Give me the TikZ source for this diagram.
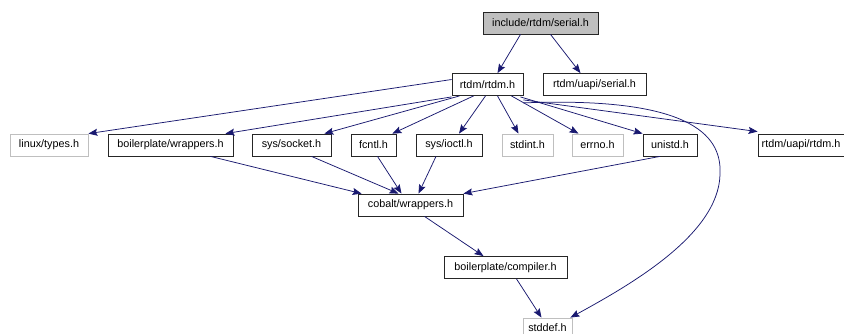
\documentclass[tikz,border=0pt]{standalone}
\usepackage{fontspec}
\setmainfont{Liberation Sans}
\usetikzlibrary{arrows.meta}
\definecolor{edgec}{HTML}{191970}
\definecolor{grayb}{HTML}{BFBFBF}
\begin{document}
\begin{tikzpicture}[x=1pt,y=-1pt,
  box/.style={draw=black!85, line width=0.8pt, minimum height=22pt, inner sep=0pt, font=\fontsize{10.8}{12}\selectfont},
  gbox/.style={box, draw=grayb},
  e/.style={draw=edgec, line width=0.75pt, -{Stealth[length=9pt,width=7pt,inset=1.5pt]}}]
\useasboundingbox (0,0) rectangle (844,333);
\fill[white] (0,0) rectangle (844,333);
\node[box, fill=grayb, minimum width=115pt] (serial) at (540.5,23) {include/rtdm/serial.h};
\node[box, minimum width=71pt] (rtdm) at (487.5,84.5) {rtdm/rtdm.h};
\node[box, minimum width=103pt] (userial) at (594.5,84.5) {rtdm/uapi/serial.h};
\node[gbox, minimum width=78pt] (types) at (49,145) {linux/types.h};
\node[box, minimum width=125pt] (bwrap) at (170.5,145) {boilerplate/wrappers.h};
\node[box, minimum width=79pt] (socket) at (291.5,145) {sys/socket.h};
\node[box, minimum width=45pt] (fcntl) at (373.5,145) {fcntl.h};
\node[box, minimum width=66pt] (ioctl) at (449,145) {sys/ioctl.h};
\node[gbox, minimum width=51pt] (stdint) at (527.5,145) {stdint.h};
\node[gbox, minimum width=51pt] (errno) at (597.5,145) {errno.h};
\node[box, minimum width=54pt] (unistd) at (670,145) {unistd.h};
\node[box, minimum width=86pt] (urtdm) at (801,145) {rtdm/uapi/rtdm.h};
\node[box, minimum width=105pt] (cobalt) at (410.5,205) {cobalt/wrappers.h};
\node[box, minimum width=123pt] (compiler) at (505.5,267.5) {boilerplate/compiler.h};
\node[gbox, minimum width=49pt, minimum height=19pt] (stddef) at (547.5,327.5) {stddef.h};

\draw[e] ([xshift=-20pt]serial.south) -- ([xshift=10pt]rtdm.north);
\draw[e] ([xshift=10pt]serial.south) -- ([xshift=-14pt]userial.north);

\draw[e] ([yshift=5pt]rtdm.west) -- (types.north east);
\draw[e] ([yshift=-1pt]rtdm.south west) -- ([xshift=-8pt]bwrap.north east);
\draw[e] ([xshift=8pt]rtdm.south west) -- ([xshift=-7pt]socket.north east);
\draw[e] ([xshift=22pt]rtdm.south west) -- ([xshift=-4pt]fcntl.north east);
\draw[e] ([xshift=-2pt]rtdm.south) -- ([xshift=10pt]ioctl.north);
\draw[e] ([xshift=10pt]rtdm.south) -- ([xshift=-9pt]stdint.north);
\draw[e] ([xshift=-12pt]rtdm.south east) -- ([xshift=-19pt]errno.north);
\draw[e] ([xshift=-3pt,yshift=-1pt]rtdm.south east) -- (unistd.north west);
\draw[e] ([yshift=-4pt]rtdm.south east) -- ([yshift=2pt]urtdm.north west);
\draw[e] ([yshift=-7pt]rtdm.south east) .. controls (700,96) and (722,140) .. (720,175)
   .. controls (718,235) and (630,285) .. ([xshift=-2pt]stddef.north east);

\draw[e] ([xshift=40pt]bwrap.south) -- ([xshift=4pt]cobalt.north west);
\draw[e] ([xshift=20pt]socket.south) -- ([xshift=-12pt]cobalt.north);
\draw[e] ([xshift=4pt]fcntl.south) -- ([xshift=-9pt]cobalt.north);
\draw[e] ([xshift=-13pt]ioctl.south) -- ([xshift=8pt]cobalt.north);
\draw[e] ([xshift=-10pt]unistd.south) -- ([xshift=0pt]cobalt.north east);

\draw[e] ([xshift=14pt]cobalt.south) -- ([xshift=-22pt]compiler.north);
\draw[e] ([xshift=11pt]compiler.south) -- ([xshift=-6pt]stddef.north);
\end{tikzpicture}
\end{document}
